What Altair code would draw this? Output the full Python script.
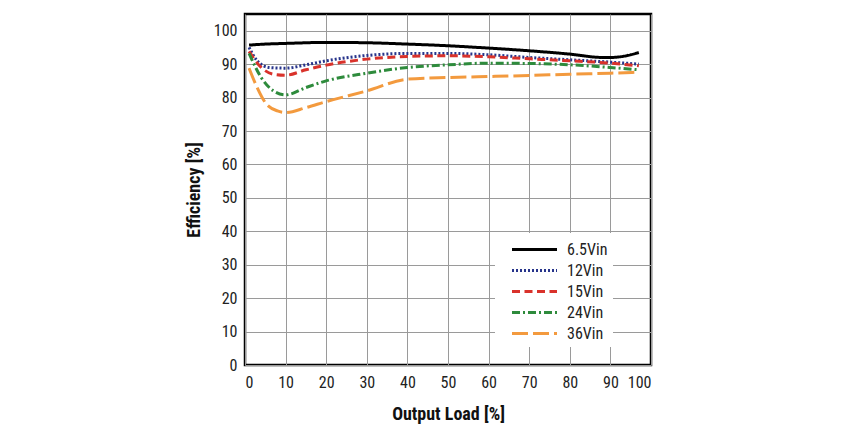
import altair as alt
import pandas as pd

series_names = ["6.5Vin", "12Vin", "15Vin", "24Vin", "36Vin"]
series_colors = ["#000000", "#27348b", "#d9322b", "#2e8b3c", "#f39a3e"]
series_dash = [[1, 0], [2, 2], [8, 4.5], [8, 3, 2, 3], [16, 5]]

load_65 = [1, 5, 10, 20, 30, 40, 50, 60, 70, 80, 88, 90, 95, 97]
eff_65 = [95.7, 96.0, 96.2, 96.5, 96.4, 96.0, 95.5, 94.8, 94.0, 93.0, 92.0, 92.0, 92.8, 93.5]

load_12 = [1, 3, 6, 10, 15, 20, 30, 40, 50, 60, 70, 80, 90, 97]
eff_12 = [95.0, 91.0, 89.0, 88.8, 89.8, 91.0, 92.6, 93.2, 93.2, 92.8, 92.0, 91.3, 90.6, 90.0]

load_15 = [1, 4, 7, 10, 15, 20, 30, 40, 50, 60, 70, 80, 90, 97]
eff_15 = [93.8, 89.0, 87.0, 86.7, 88.3, 89.7, 91.5, 92.3, 92.5, 92.2, 91.6, 91.0, 90.3, 89.5]

load_24 = [1, 4, 7, 10, 15, 20, 30, 40, 50, 60, 70, 80, 90, 97]
eff_24 = [93.2, 86.0, 82.0, 80.8, 83.0, 85.0, 87.3, 89.0, 89.8, 90.3, 90.2, 89.8, 89.0, 88.3]

load_36 = [1, 3, 5, 8, 10, 15, 20, 30, 40, 50, 60, 70, 80, 90, 97]
eff_36 = [88.8, 83.0, 78.5, 76.0, 75.5, 77.0, 78.8, 82.0, 85.5, 86.0, 86.3, 86.6, 87.0, 87.3, 87.6]

x_ticks = list(range(0, 101, 10))
y_ticks = list(range(0, 101, 10))

rows = []
for name, xs, ys in [
    ("6.5Vin", load_65, eff_65),
    ("12Vin", load_12, eff_12),
    ("15Vin", load_15, eff_15),
    ("24Vin", load_24, eff_24),
    ("36Vin", load_36, eff_36),
]:
    for x, y in zip(xs, ys):
        rows.append({"series": name, "load": x, "eff": y})
df = pd.DataFrame(rows)

FONT = "Liberation Sans Narrow, Roboto Condensed, DejaVu Sans Condensed, Arial Narrow, sans-serif"

legend = alt.Legend(
    title=None,
    orient="none",
    legendX=250,
    legendY=219,
    symbolType="M-2.25,0H2.25",
    symbolSize=400,
    symbolStrokeWidth=3,
    labelFont=FONT,
    labelFontSize=16,
    labelColor="#222222",
    labelOffset=21,
    symbolOffset=23,
    rowPadding=1,
    fillColor="white",
    padding=5,
)

chart = (
    alt.Chart(df)
    .mark_line(interpolate="monotone", strokeWidth=3)
    .encode(
        x=alt.X(
            "load:Q",
            scale=alt.Scale(domain=[0, 100], nice=False),
            axis=alt.Axis(values=x_ticks, title="Output Load [%]"),
        ),
        y=alt.Y(
            "eff:Q",
            scale=alt.Scale(domain=[0, 105], nice=False),
            axis=alt.Axis(values=y_ticks, title="Efficiency [%]"),
        ),
        color=alt.Color(
            "series:N",
            scale=alt.Scale(domain=series_names, range=series_colors),
            sort=series_names,
            legend=legend,
        ),
        strokeDash=alt.StrokeDash(
            "series:N",
            scale=alt.Scale(domain=series_names, range=series_dash),
            sort=series_names,
            legend=legend,
        ),
        strokeWidth=alt.condition(
            alt.datum.series == "6.5Vin", alt.value(3.5), alt.value(3)
        ),
        order=alt.Order("load:Q"),
    )
    .properties(
        width=406,
        height=351,
        autosize=alt.AutoSizeParams(type="none"),
        padding={"left": 237, "top": 6, "right": 180, "bottom": 60},
    )
    .configure_view(stroke="#000000", strokeWidth=2.5)
    .configure_axis(
        grid=True,
        gridColor="#9a9a9a",
        gridWidth=1,
        domain=False,
        ticks=False,
        labelFont=FONT,
        labelFontSize=16,
        labelColor="#222222",
        titleFont=FONT,
        titleFontSize=18,
        titleFontWeight="bold",
        titleColor="#111111",
    )
    .configure_axisX(labelPadding=9, titlePadding=15)
    .configure_axisY(labelPadding=8, titlePadding=10)
)

chart.save("out.html", embed_options={"renderer": "svg", "actions": False})
